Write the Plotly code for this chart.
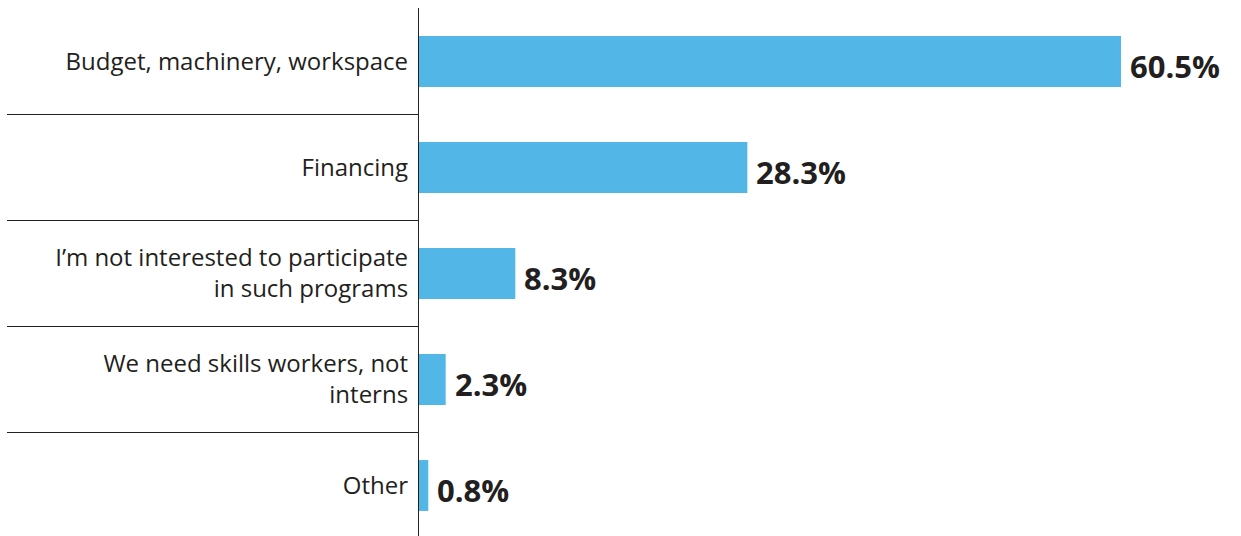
import plotly.graph_objects as go

# Survey responses: main obstacles to running internship programs
categories = [
    "Budget, machinery, workspace",
    "Financing",
    "I’m not interested to participate<br>in such programs",
    "We need skills workers, not<br>interns",
    "Other",
]
shares = [60.5, 28.3, 8.3, 2.3, 0.8]

BAR_COLOR = "#52B6E7"
TEXT_COLOR = "#231F20"
LINE_COLOR = "#222222"
FONT = "Open Sans"

fig = go.Figure(
    go.Bar(
        x=shares,
        y=categories,
        orientation="h",
        marker=dict(color=BAR_COLOR, line=dict(width=0)),
        width=0.48,
        cliponaxis=False,
        hoverinfo="skip",
    )
)

# bold value labels just right of each bar end
for cat, val in zip(categories, shares):
    fig.add_annotation(
        x=val,
        y=cat,
        xref="x",
        yref="y",
        text=f"<b>{val:.1f}%</b>",
        showarrow=False,
        xanchor="left",
        yanchor="middle",
        xshift=7,
        yshift=-4,
        font=dict(family=FONT, size=31, color=TEXT_COLOR),
    )

# horizontal separators between the category rows, running under the labels
plot_left_px = 419
plot_width_px = 1241 - plot_left_px
sep_left = (7 - plot_left_px) / plot_width_px
for i in range(len(categories) - 1):
    fig.add_shape(
        type="line",
        xref="paper",
        yref="y",
        x0=sep_left,
        x1=0,
        y0=i + 0.5,
        y1=i + 0.5,
        line=dict(color=LINE_COLOR, width=1.2),
        layer="above",
    )

fig.update_layout(
    width=1241,
    height=536,
    margin=dict(l=plot_left_px, r=0, t=8, b=0, pad=0),
    paper_bgcolor="white",
    plot_bgcolor="white",
    showlegend=False,
    font=dict(family=FONT, color=TEXT_COLOR),
)

fig.update_xaxes(
    range=[0, 70.84],
    visible=False,
    showgrid=False,
    zeroline=False,
    fixedrange=True,
)

fig.update_yaxes(
    type="category",
    range=[4.4764, -0.5047],
    showgrid=False,
    zeroline=False,
    showline=True,
    linecolor=LINE_COLOR,
    linewidth=1.2,
    ticks="",
    ticklabelstandoff=5,
    tickfont=dict(family=FONT, size=24, color=TEXT_COLOR),
    fixedrange=True,
)

fig.write_html("out.html", config={"displayModeBar": False})
